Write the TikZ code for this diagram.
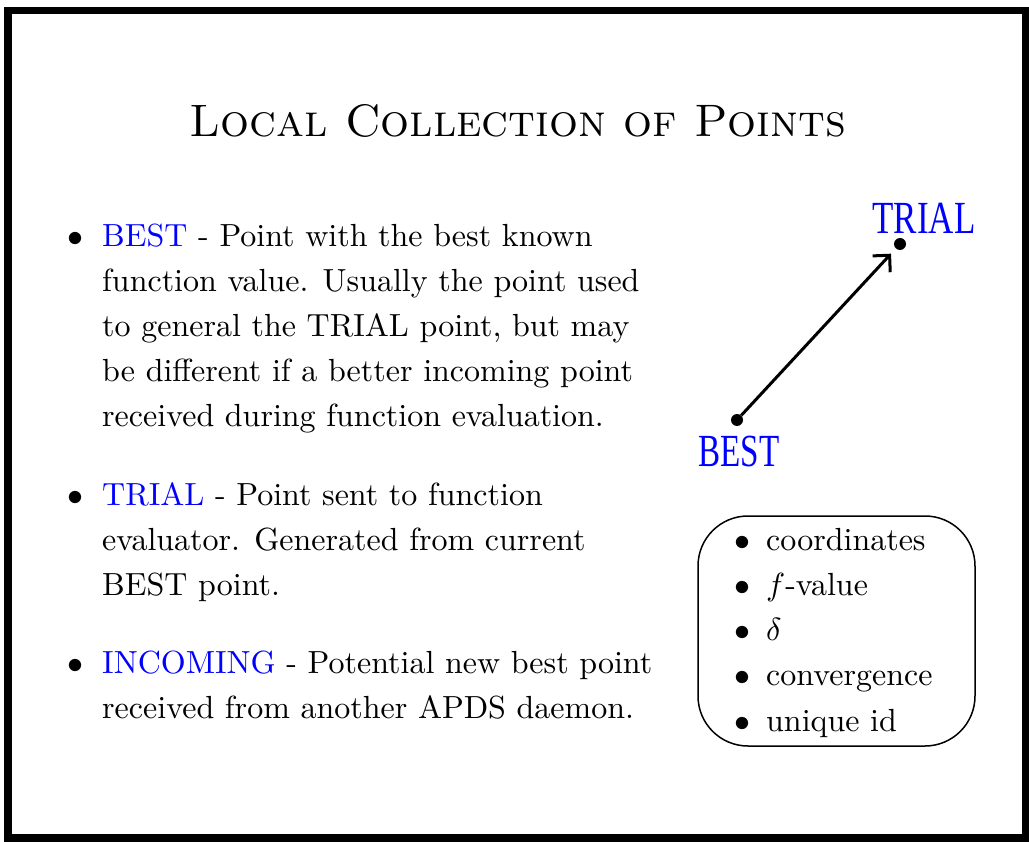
\documentclass[tikz,border=0pt]{standalone}
\usepackage{fontspec}
\setmainfont{lmroman10-regular.otf}[ItalicFont=lmroman10-italic.otf, BoldFont=lmroman10-bold.otf, SmallCapsFont=lmromancaps10-regular.otf]
\DeclareFontShape{OML}{cmm}{m}{it}{<->cmmi10}{}
\DeclareFontShape{OMS}{cmsy}{m}{n}{<->cmsy10}{}
\newfontfamily\labelfont{Liberation Serif}
\usetikzlibrary{arrows.meta}
\definecolor{kwblue}{RGB}{0,0,255}
\begin{document}
\begin{tikzpicture}[x=1pt,y=-1pt,
  txt/.style={anchor=base west, inner sep=0pt, font=\fontsize{32}{45}\selectfont},
  bul/.style={anchor=base, inner sep=0pt, font=\fontsize{32}{45}\selectfont},
  kw/.style={text=kwblue},
  dot/.style={circle, fill=black, inner sep=0pt, minimum size=12pt},
  lbl/.style={inner sep=0pt, text=kwblue, font=\labelfont\fontsize{46}{46}\selectfont}]
\useasboundingbox (0,0) rectangle (1029,842);
\draw[line width=7.5pt] (8,10.5) rectangle (1025.5,838);
\node[anchor=base, inner sep=0pt, font=\fontsize{45.5}{50}\selectfont\scshape] (title) at (518,137) {Local Collection of Points};
% item 1
\node[bul] (u1) at (75,247) {$\bullet$};
\node[txt] (l11) at (102,247) {\textcolor{kwblue}{BEST} - Point with the best known};
\node[txt] (l12) at (102,292) {function value. Usually the point used};
\node[txt] (l13) at (102,337) {to general the TRIAL point, but may};
\node[txt] (l14) at (102,382) {be different if a better incoming point};
\node[txt] (l15) at (102,427) {received during function evaluation.};
% item 2
\node[bul] (u2) at (75,505) {$\bullet$};
\node[txt] (l21) at (102,505) {\textcolor{kwblue}{TRIAL} - Point sent to function};
\node[txt] (l22) at (102,550) {evaluator. Generated from current};
\node[txt] (l23) at (102,595) {BEST point.};
% item 3
\node[bul] (u3) at (75,673) {$\bullet$};
\node[txt] (l31) at (102,673) {\textcolor{kwblue}{INCOMING} - Potential new best point};
\node[txt] (l32) at (102,718) {received from another APDS daemon.};
% diagram
\node[dot] (best) at (737,420) {};
\node[dot] (trial) at (900,244) {};
\draw[line width=3pt, shorten >=7pt, -{Straight Barb[angle=90:17pt, line width=3pt]}] (best) -- (trial);
\node[lbl, xscale=0.76] (trialL) at (924,218) {TRIAL};
\node[lbl, xscale=0.72] (bestL) at (739,451) {BEST};
% box
\draw[line width=1.5pt, rounded corners=50pt] (698,516) rectangle (975,746);
\node[bul] (v1) at (742,550) {$\bullet$};
\node[txt] (b1) at (766,550) {coordinates};
\node[bul] (v2) at (742,595) {$\bullet$};
\node[txt] (b2) at (766,595) {$f$-value};
\node[bul] (v3) at (742,640) {$\bullet$};
\node[txt] (b3) at (766,640) {$\delta$};
\node[bul] (v4) at (742,685) {$\bullet$};
\node[txt] (b4) at (766,685) {convergence};
\node[bul] (v5) at (742,731) {$\bullet$};
\node[txt] (b5) at (766,731) {unique id};
\end{tikzpicture}
\end{document}
